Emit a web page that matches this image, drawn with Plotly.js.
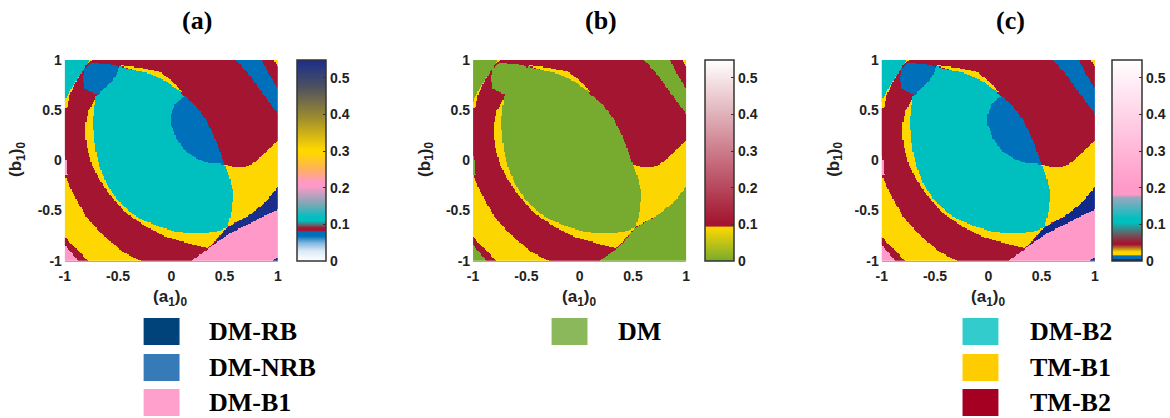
<!DOCTYPE html>
<html><head><meta charset="utf-8">
<script src="https://cdn.plot.ly/plotly-3.0.1.min.js"></script>
<style>html,body{margin:0;padding:0;background:#fff}#c{width:1170px;height:418px}</style>
</head><body><div id="c"></div>
<script>
// Region outlines, as [a1, b1] pairs, painted in this order over TM-B2.
var yellowMain=[[-.719,.601],[-.781,.485],[-.806,.336],[-.797,.169],[-.75,-.03],[-.672,-.196],[-.5625,-.362],[-.422,-.528],[-.234,-.661],[-.047,-.761],[.172,-.827],[.344,-.877],[.531,-.661],[.734,-.545],[.891,-.412],[1,-.262],[1,.196],[.922,.113],[.859,.053],[.797,-.007],[.734,-.047],[.672,-.066],[.609,-.07],[.5,-.037],[.109,.103],[-.203,.435]];
var yellowTop=[[-.5,.948],[-.3,.923],[-.11,.884],[.015,.784],[.11,.67],[.077,.69],[-.047,.785],[-.2,.862],[-.36,.9]];
var yellowLower=[[-1,-.146],[-.922,-.329],[-.797,-.561],[-.641,-.744],[-.453,-.91],[-.291,-1],[-.781,-1],[-.875,-.894],[-1,-.761]];
var yellowSliver=[[-.813,.917],[-.875,.817],[-.9375,.718],[-.984,.618],[-1,.585],[-1,.528],[-.978,.528],[-.953,.651],[-.891,.784],[-.828,.894]];
var yellowTick=[[-.781,1],[-.75,1],[-.788,.96]];
var yellowCorner=[[.969,1],[1,1],[1,.93]];
var tealEllipse=[[-.703,.651],[-.625,.718],[-.5625,.784],[-.506,.867],[-.491,.934],[-.36,.9],[-.2,.862],[-.047,.785],[.077,.69],[.11,.65],[.234,.535],[.328,.402],[.406,.236],[.453,.103],[.5,-.037],[.547,-.163],[.578,-.296],[.578,-.395],[.5625,-.528],[.531,-.661],[.422,-.711],[.234,-.728],[.047,-.711],[-.109,-.661],[-.266,-.595],[-.391,-.512],[-.516,-.379],[-.609,-.229],[-.672,-.063],[-.709,.103],[-.725,.236],[-.734,.385],[-.719,.535]];
var tealCorner=[[-1,1],[-.766,1],[-.8125,.917],[-.875,.817],[-.9375,.718],[-.984,.618],[-1,.585]];
var blueBlobTop=[[-.813,.917],[-.75,.967],[-.594,.96],[-.5,.934],[-.506,.867],[-.5625,.784],[-.625,.718],[-.6875,.651],[-.766,.684],[-.813,.718],[-.828,.817]];
var blueBlobMid=[[.125,.641],[.234,.535],[.328,.402],[.406,.236],[.453,.103],[.5,-.037],[.359,-.03],[.234,.02],[.125,.103],[.047,.219],[0,.352],[0,.468],[.041,.568]];
var blueStripe=[[.609,1],[.853,1],[.922,.85],[1,.718],[1,.467],[.859,.668],[.734,.85]];
var navyWedge=[[1,-.262],[.891,-.412],[.734,-.545],[.516,-.678],[.39,-.844],[.547,-.728],[.734,-.628],[1,-.488]];
var navyCorner=[[.953,-1],[1,-.963],[1,-1]];
var pinkLower=[[.1875,-1],[.344,-.884],[.39,-.844],[.547,-.728],[.734,-.628],[1,-.488],[1,-1]];
var pinkLeft=[[-1,.043],[-.984,.003],[-.975,-.146],[-1,-.146]];
var pinkCorner=[[-1,-.844],[-.953,-.894],[-.875,-1],[-1,-1]];

var regimes=['TM-B2','TM-B1','DM-B2','DM-NRB','DM-RB','DM-B1'];
var paintOrder=[[yellowMain,1],[yellowTop,1],[yellowLower,1],[yellowSliver,1],[yellowTick,1],[yellowCorner,1],
  [tealEllipse,2],[tealCorner,2],[blueBlobTop,3],[blueBlobMid,3],[blueStripe,3],
  [navyWedge,4],[pinkLower,5],[navyCorner,4],[pinkLeft,5],[pinkCorner,5]];

// Heatmap value of each regime in each panel, in the order of `regimes`.
var valuesA=[.088,.3,.115,.075,.55,.21];
var valuesB=[.1,.09,0,0,0,0];
var valuesC=[.048,.022,.11,.01,0,.2];

var stopsA=[[0,'#ffffff'],[.0275,'#dceaf5'],[.05,'#7db5de'],[.068,'#0070bb'],[.08,'#0070bb'],[.083,'#a31530'],[.091,'#a31530'],[.097,'#6b5a60'],[.11,'#00bfbf'],[.12,'#00bfbf'],[.155,'#7aa8b5'],[.205,'#ff99c8'],[.215,'#ff99c8'],[.25,'#ffb060'],[.295,'#ffd700'],[.305,'#ffd700'],[.395,'#9a8a30'],[.477,'#4d5060'],[.55,'#1a2e8c']];
var stopsB=[[0,'#76ab2f'],[.092,'#ffd700'],[.0935,'#ffd700'],[.095,'#a31530'],[.105,'#a31530'],[.55,'#ffffff']];
var stopsC=[[0,'#12298c'],[.004,'#12298c'],[.007,'#0070bb'],[.014,'#0070bb'],[.017,'#ffd700'],[.025,'#ffd700'],[.037,'#b06a20'],[.045,'#a31530'],[.05,'#a31530'],[.073,'#6b5a60'],[.105,'#00bfbf'],[.115,'#00bfbf'],[.174,'#9aa8c0'],[.182,'#ff99c8'],[.2,'#ff99c8'],[.55,'#ffffff']];

var tickVals=[-1,-.5,0,.5,1];
var tickText=['-1','-0.5','0','0.5','1'];
var cbarTicks=[0,.1,.2,.3,.4,.5];
var cbarText=['0','0.1','0.2','0.3','0.4','0.5'];
var panelTitles=['(a)','(b)','(c)'];
var xTitle='(a<sub>1</sub>)<sub>0</sub>', yTitle='(b<sub>1</sub>)<sub>0</sub>';
var legendEntries=[['DM-RB','#00427a',0,0],['DM-NRB','#377ab8',0,1],['DM-B1','#ffa0cc',0,2],['DM','#8cb85c',1,0],['DM-B2','#33cccc',2,0],['TM-B1','#ffcc00',2,1],['TM-B2','#a50021',2,2]];

var W=1170,H=418,N=171,ZMAX=.55;
var panels=[
 {l:65,r:278.5,cb:298,cbw:29,title:198,sw:144,tx:208,xt:170,yt:17,v:valuesA,s:stopsA},
 {l:474.3,r:688,cb:706.5,cbw:29,title:603,sw:553,tx:618,xt:580,yt:427,v:valuesB,s:stopsB},
 {l:884,r:1097.7,cb:1115,cbw:29.5,title:1013,sw:965,tx:1031,xt:991,yt:837,v:valuesC,s:stopsC}];
var TOP=60,BOT=260.7;
var rowY=[318,354,389],SWH=27;

function inside(p,x,y){var c=false;for(var i=0,j=p.length-1;i<p.length;j=i++){
  if((p[i][1]>y)!==(p[j][1]>y)&&x<(p[j][0]-p[i][0])*(y-p[i][1])/(p[j][1]-p[i][1])+p[i][0])c=!c;}return c;}
var axis=[];for(var k=0;k<N;k++)axis.push(-1+2*k/(N-1));
// Cells on the frame are tested just inside it, so outlines that run along the frame still claim them.
var cls=axis.map(function(y){return axis.map(function(x){var m=0;
  paintOrder.forEach(function(o){if(inside(o[0],x*.999,y*.999))m=o[1];});return m;});});

var FONT='"Liberation Sans",Arial,sans-serif',SERIF='"Liberation Serif","Times New Roman",serif',INK='#222222';
var tick={family:FONT,size:14,color:INK,weight:'bold'};
var px=function(x){return x/W},py=function(y){return 1-y/H};
var data=[],shapes=[],ann=[];
var layout={width:W,height:H,margin:{l:0,r:0,t:0,b:0},paper_bgcolor:'#fff',plot_bgcolor:'#fff',showlegend:false};
panels.forEach(function(p,i){
  var s=i?String(i+1):'';
  data.push({type:'heatmap',x:axis,y:axis,xaxis:'x'+s,yaxis:'y'+s,zmin:0,zmax:ZMAX,zsmooth:false,hoverinfo:'skip',
    z:cls.map(function(r){return r.map(function(c){return p.v[c];});}),
    colorscale:p.s.map(function(t){return [t[0]/ZMAX,t[1]];}),
    colorbar:{x:px(p.cb),xanchor:'left',xpad:0,ypad:0,y:py(BOT),yanchor:'bottom',len:(BOT-TOP)/H,lenmode:'fraction',
      thickness:p.cbw,thicknessmode:'pixels',outlinecolor:'#333',outlinewidth:1.5,
      ticks:'inside',ticklen:3,tickcolor:'#333',tickvals:cbarTicks,ticktext:cbarText,tickfont:tick}});
  layout['xaxis'+s]={domain:[px(p.l),px(p.r)],range:[-1,1],anchor:'y'+s,tickvals:tickVals,ticktext:tickText,ticks:'',showgrid:false,zeroline:false,
    showline:true,linecolor:'#aaaaaa',linewidth:1,tickfont:tick,ticklabelstandoff:2};
  layout['yaxis'+s]={domain:[py(BOT),py(TOP)],range:[-1,1],anchor:'x'+s,tickvals:tickVals,ticktext:tickText,ticks:'',showgrid:false,zeroline:false,
    showline:false,tickfont:tick,ticklabelstandoff:2};
  ann.push({xref:'paper',yref:'paper',x:px(p.title),y:py(20),xanchor:'center',yanchor:'middle',showarrow:false,text:'<b>'+panelTitles[i]+'</b>',font:{family:SERIF,size:26,color:'#000'}});
  ann.push({xref:'paper',yref:'paper',x:px(p.xt),y:py(298),xanchor:'center',yanchor:'middle',showarrow:false,text:'<b>'+xTitle+'</b>',font:{family:FONT,size:17,color:INK}});
  ann.push({xref:'paper',yref:'paper',x:px(p.yt),y:py(159),xanchor:'center',yanchor:'middle',textangle:-90,showarrow:false,text:'<b>'+yTitle+'</b>',font:{family:FONT,size:17,color:INK}});
});
legendEntries.forEach(function(e){
  var p=panels[e[2]],y=rowY[e[3]];
  shapes.push({type:'rect',xref:'paper',yref:'paper',x0:px(p.sw),x1:px(p.sw+36),y0:py(y),y1:py(y+SWH),fillcolor:e[1],line:{width:0}});
  ann.push({xref:'paper',yref:'paper',x:px(p.tx),y:py(y+13),xanchor:'left',yanchor:'middle',showarrow:false,text:'<b>'+e[0]+'</b>',font:{family:SERIF,size:26,color:'#000'}});
});
layout.shapes=shapes;layout.annotations=ann;
Plotly.newPlot('c',data,layout,{displayModeBar:false,staticPlot:true});
</script></body></html>
